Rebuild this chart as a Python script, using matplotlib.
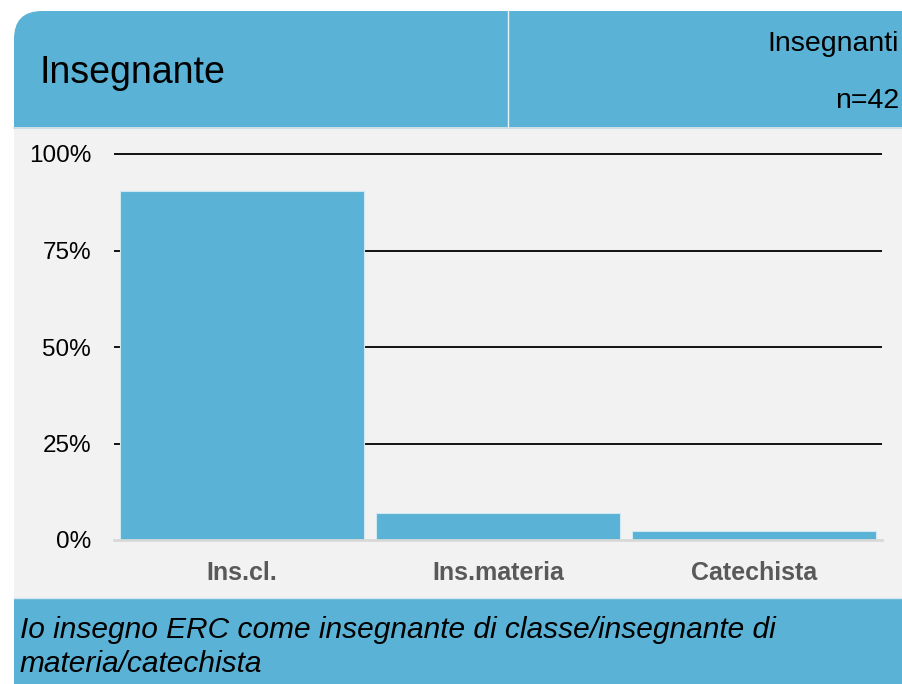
import matplotlib
matplotlib.use("Agg")
import matplotlib.pyplot as plt
from matplotlib.patches import FancyBboxPatch, Rectangle
from matplotlib.ticker import FuncFormatter

plt.rcParams['font.family'] = ['Liberation Sans', 'DejaVu Sans']

categories = ["Ins.cl.", "Ins.materia", "Catechista"]
values = [0.905, 0.071, 0.024]
yticks = [0, 0.25, 0.5, 0.75, 1.0]
title = "Insegnante"
group_label = "Insegnanti"
n_label = "n=42"
question_lines = ["Io insegno ERC come insegnante di classe/insegnante di",
                  "materia/catechista"]

BLUE = "#5ab3d6"
GREY = "#f2f2f2"
W, H = 903, 684

fig = plt.figure(figsize=(W / 100, H / 100), dpi=100)
fig.patch.set_facecolor("white")

# background layer in pixel coordinates
bg = fig.add_axes([0, 0, 1, 1], zorder=-5)
bg.set_xlim(0, W)
bg.set_ylim(H, 0)
bg.axis("off")

bg.add_patch(FancyBboxPatch((14, 11), 1000, 200,
                            boxstyle="round,pad=0,rounding_size=28",
                            facecolor=BLUE, edgecolor="none"))
bg.add_patch(Rectangle((14, 127), 1000, 471, facecolor=GREY, edgecolor="none"))
bg.plot([14, W], [127.5, 127.5], color="#c9dbe4", lw=1.2)
bg.add_patch(Rectangle((14, 598), 1000, 200, facecolor=BLUE, edgecolor="none"))
bg.plot([14, W], [598, 598], color="#d4e6ee", lw=1.0)
bg.plot([508, 508], [11, 127], color="#e8f3f8", lw=1.0)

bg.text(40, 83, title, fontsize=27, va="baseline", ha="left", color="black")
bg.text(899, 51, group_label, fontsize=20.5, va="baseline", ha="right", color="black")
bg.text(899, 108, n_label, fontsize=20.5, va="baseline", ha="right", color="black")
for i, line in enumerate(question_lines):
    bg.text(20, 638 + 34 * i, line, fontsize=21.5, style="italic",
            va="baseline", ha="left", color="black")

# chart axes
top_val = 1.02
y0 = 540
ppu = 386
ax_top = y0 - top_val * ppu
ax = fig.add_axes([114 / W, (H - y0) / H, 768 / W, (y0 - ax_top) / H])
ax.patch.set_alpha(0)
ax.set_xlim(-0.5, len(categories) - 0.5)
ax.set_ylim(0, top_val)

for y in yticks[1:]:
    ax.axhline(y, color="black", lw=1.3, zorder=1)
ax.bar(range(len(categories)), values, width=0.95, color=BLUE,
       edgecolor="#cfe8f2", linewidth=0.8, zorder=2)
ax.axhline(0, color="#d9d9d9", lw=2, zorder=3, clip_on=False)

ax.set_yticks(yticks)
ax.yaxis.set_major_formatter(FuncFormatter(lambda v, p: f"{int(round(v * 100))}%"))
ax.set_xticks(range(len(categories)))
ax.set_xticklabels(categories, fontweight="bold", color="#595959", fontsize=18)
ax.tick_params(axis="x", length=0, pad=15)
ax.tick_params(axis="y", length=0, pad=16.5, labelsize=17.5, labelcolor="black")
for s in ax.spines.values():
    s.set_visible(False)

fig.savefig("out.png", dpi=100)
